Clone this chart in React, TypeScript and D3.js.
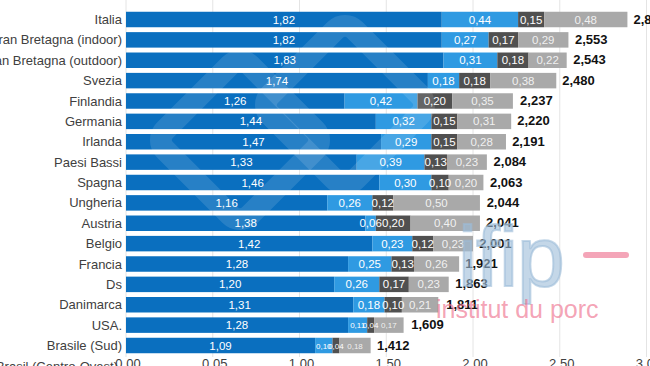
import React from "react";
import * as d3 from "d3";

const categories = [
  "Italia",
  "Gran Bretagna (indoor)",
  "Gran Bretagna (outdoor)",
  "Svezia",
  "Finlandia",
  "Germania",
  "Irlanda",
  "Paesi Bassi",
  "Spagna",
  "Ungheria",
  "Austria",
  "Belgio",
  "Francia",
  "Ds",
  "Danimarca",
  "USA.",
  "Brasile (Sud)",
];
const mainVals = [1.82, 1.82, 1.83, 1.74, 1.26, 1.44, 1.47, 1.33, 1.46, 1.16, 1.38, 1.42, 1.28, 1.2, 1.31, 1.28, 1.09];
const lightBlueVals = [0.44, 0.27, 0.31, 0.18, 0.42, 0.32, 0.29, 0.39, 0.3, 0.26, 0.06, 0.23, 0.25, 0.26, 0.18, 0.11, 0.1];
const darkGreyVals = [0.15, 0.17, 0.18, 0.18, 0.2, 0.15, 0.15, 0.13, 0.1, 0.12, 0.2, 0.12, 0.13, 0.17, 0.1, 0.04, 0.04];
const lightGreyVals = [0.48, 0.29, 0.22, 0.38, 0.35, 0.31, 0.28, 0.23, 0.2, 0.5, 0.4, 0.23, 0.26, 0.23, 0.21, 0.17, 0.18];
const totals = [2.89, 2.553, 2.543, 2.48, 2.237, 2.22, 2.191, 2.084, 2.063, 2.044, 2.041, 2.001, 1.921, 1.863, 1.811, 1.609, 1.412];
const smallLabelRows = ["USA.", "Brasile (Sud)"];
const cutLabel = "Brasil (Centro-Ovest)";
const tickValues = [0, 0.5, 1, 1.5, 2, 2.5, 3];
const tickLabels = ["0,00", "0,05", "1,00", "1,50", "2,00", "2,50", "3,00"];

const seriesVals = [mainVals, lightBlueVals, darkGreyVals, lightGreyVals];
const colors = ["#0a6fbf", "#2f9ae2", "#505050", "#a9a9a9"];
const FONT = "'Liberation Sans', Arial, sans-serif";

const fmt = (v: number, d: number) => v.toFixed(d).replace(".", ",");

export default function App() {
  const W = 650;
  const H = 366;
  const x = d3.scaleLinear().domain([0, 3]).range([126, 646.5]);
  const step = 20.375;
  const y0 = 19.5 - step / 2;
  const y = d3
    .scaleBand<string>()
    .domain(categories)
    .range([y0, y0 + step * categories.length])
    .paddingInner(0.24)
    .paddingOuter(0.12);

  const rows = categories.map((c, i) => {
    let acc = 0;
    const segs = seriesVals.map((s, k) => {
      const start = acc;
      acc += s[i];
      return { k, start, end: acc, v: s[i] };
    });
    return { c, i, segs };
  });

  return (
    <div style={{ position: "fixed", left: 0, top: 0, width: W, height: H, overflow: "hidden", background: "#fff" }}>
      <svg width={W} height={H} style={{ display: "block", fontFamily: FONT }}>
        <rect width={W} height={H} fill="#fff" />
        {tickValues.map((t) => (
          <line key={"g" + t} x1={x(t)} x2={x(t)} y1={0} y2={357} stroke="#e4e4e4" strokeWidth={1} />
        ))}
        {rows.map((r) => {
          const by = y(r.c)!;
          const bh = y.bandwidth();
          const cy = by + bh / 2;
          const small = smallLabelRows.includes(r.c);
          return (
            <g key={r.c}>
              {r.segs.map((s) => (
                <rect
                  key={s.k}
                  x={x(s.start)}
                  y={by}
                  width={x(s.end) - x(s.start)}
                  height={bh}
                  fill={colors[s.k]}
                />
              ))}
              {r.segs.map((s) => (
                <text
                  key={"t" + s.k}
                  x={(x(s.start) + x(s.end)) / 2}
                  y={cy + (small && s.k > 0 ? 3 : 4)}
                  textAnchor="middle"
                  fill="#fff"
                  fillOpacity={s.k === 3 ? 0.85 : 1}
                  fontSize={small && s.k > 0 ? 8 : 11.5}
                >
                  {fmt(s.v, 2)}
                </text>
              ))}
              <text x={x(totals[r.i]) + 6} y={cy + 4} fontSize={13} fontWeight="bold" fill="#111">
                {fmt(totals[r.i], 3)}
              </text>
              <text x={122} y={cy + 4.5} textAnchor="end" fontSize={13} fill="#404040">
                {r.c}
              </text>
            </g>
          );
        })}
        <text x={118} y={371} textAnchor="end" fontSize={13} fill="#404040">
          {cutLabel}
        </text>
        {tickValues.map((t, i) => (
          <text key={"tl" + t} x={x(t) + 2} y={368} textAnchor="middle" fontSize={13} fill="#404040">
            {tickLabels[i]}
          </text>
        ))}
        {/* 3tres3 watermark */}
        <g fill="none" stroke="#ffffff" strokeOpacity={0.12} strokeWidth={22} strokeLinejoin="round">
          <rect x={-60} y={-60} width={120} height={120} transform="translate(240,140) rotate(45)" rx={14} />
          <rect x={-60} y={-60} width={120} height={120} transform="translate(345,105) rotate(45)" rx={14} />
        </g>
        {/* ifip watermark */}
        <g>
          <text
            x={458}
            y={286}
            fontSize={86}
            fill="#9dbcd8"
            fillOpacity={0.6}
            stroke="#9dbcd8"
            strokeOpacity={0.6}
            strokeWidth={2}
            letterSpacing={-1}
          >
            ifip
          </text>
          <rect x={583} y={252} width={46} height={6} rx={3} fill="#f07f9a" fillOpacity={0.7} />
          <text x={436} y={318} fontSize={25} fill="#ee6f8d" fillOpacity={0.65}>
            institut du porc
          </text>
        </g>
      </svg>
    </div>
  );
}
